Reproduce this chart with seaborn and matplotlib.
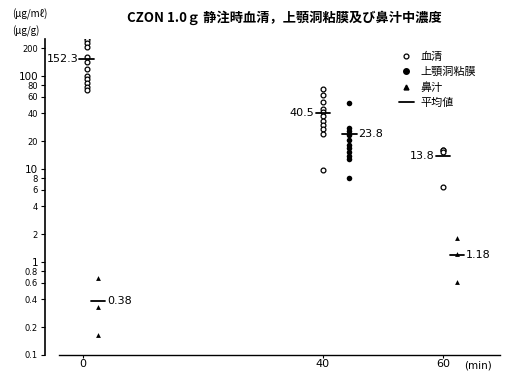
import numpy as np
import pandas as pd
import matplotlib
matplotlib.use("Agg")
import matplotlib.pyplot as plt
import seaborn as sns

# ---- data ----
serum_0 = [255, 245, 228, 205, 162, 143, 118, 100, 92, 84, 76, 70]
serum_40 = [72, 62, 52, 44, 41, 37, 33, 30, 27, 24, 9.8]
serum_60 = [16, 16, 15.3, 6.4]
mucosa_40 = [51, 27.6, 25.6, 23.2, 20.5, 18.1, 16.8, 15.2, 13.8, 12.8, 8.0]
nasal_0 = [0.67, 0.33, 0.164]
nasal_60 = [1.81, 1.22, 0.61]

mean_serum = {0: 152.3, 40: 40.5, 60: 13.8}
mean_mucosa = {40: 23.8}
mean_nasal = {0: 0.38, 60: 1.18}

x_ticks = [0, 40, 60]
y_ticks = [0.1, 0.2, 0.4, 0.6, 0.8, 1, 2, 4, 6, 8, 10, 20, 40, 60, 80, 100, 200]
y_labels = ["0.1", "0.2", "0.4", "0.6", "0.8", "1", "2", "4", "6", "8", "10",
            "20", "40", "60", "80", "100", "200"]

title = "CZON 1.0ｇ 静注時血清，上顎洞粘膜及び鼻汁中濃度"
legend_labels = ["血清", "上顎洞粘膜", "鼻汁", "平均値"]

# ---- layout (offsets of each series from its sampling time, in minutes) ----
off_serum = {0: 0.6, 40: 0.0, 60: 0.0}
off_mucosa = 4.4
off_nasal = {0: 2.5, 60: 2.3}

sns.set_style("white")
plt.rcParams["font.family"] = ["Noto Sans CJK JP", "DejaVu Sans"]
for k in ["text.color", "axes.labelcolor", "xtick.color", "ytick.color", "axes.edgecolor"]:
    plt.rcParams[k] = "black"

rows = []
for t, vals in [(0, serum_0), (40, serum_40), (60, serum_60)]:
    rows += [dict(x=t + off_serum[t], v=v, kind="serum") for v in vals]
for v in mucosa_40:
    rows.append(dict(x=40 + off_mucosa, v=v, kind="mucosa"))
for t, vals in [(0, nasal_0), (60, nasal_60)]:
    rows += [dict(x=t + off_nasal[t], v=v, kind="nasal") for v in vals]
df = pd.DataFrame(rows)

fig = plt.figure(figsize=(5.07, 3.71), dpi=100)
ax = fig.add_axes([45 / 507, 1 - 355 / 371, (500 - 45) / 507, (355 - 39) / 371])

sns.scatterplot(data=df[df.kind == "serum"], x="x", y="v", ax=ax, marker="o",
                s=12, facecolor="white", edgecolor="black", linewidth=0.9)
sns.scatterplot(data=df[df.kind == "mucosa"], x="x", y="v", ax=ax, marker="o",
                s=16, color="black", edgecolor="black", linewidth=0)
sns.scatterplot(data=df[df.kind == "nasal"], x="x", y="v", ax=ax, marker="^",
                s=12, color="black", edgecolor="black", linewidth=0)

ax.set_yscale("log")
ax.set_ylim(0.1, 250)
ax.set_xlim(-6.33, 69.5)

hw = 1.2
lab_kw = dict(va="center", fontsize=8, family="DejaVu Sans", color="black")
for t, m in mean_serum.items():
    cx = t + off_serum[t]
    ax.plot([cx - hw, cx + hw], [m, m], color="black", lw=1.3)
    ax.text(cx - hw - 0.2, m, f"{m}", ha="right", **lab_kw)
for t, m in mean_mucosa.items():
    cx = t + off_mucosa
    ax.plot([cx - hw, cx + hw], [m, m], color="black", lw=1.3)
    ax.text(cx + hw + 0.3, m, f"{m}", ha="left", **lab_kw)
for t, m in mean_nasal.items():
    cx = t + off_nasal[t]
    ax.plot([cx - hw, cx + hw], [m, m], color="black", lw=1.3)
    ax.text(cx + hw + 0.3, m, f"{m}", ha="left", **lab_kw)

# axes styling
for s in ["top", "right"]:
    ax.spines[s].set_visible(False)
ax.spines["left"].set_linewidth(1.2)
ax.spines["bottom"].set_linewidth(1.0)
ax.spines["bottom"].set_bounds(-4, 69.5)
ax.yaxis.set_major_locator(matplotlib.ticker.FixedLocator(y_ticks))
ax.yaxis.set_minor_locator(matplotlib.ticker.NullLocator())
ax.set_yticklabels(y_labels)
for lbl, val in zip(ax.get_yticklabels(), y_ticks):
    lbl.set_fontsize(7.5 if val in (1, 10, 100) else 6)
    lbl.set_family("DejaVu Sans")
ax.set_xticks(x_ticks)
ax.set_xticklabels([str(t) for t in x_ticks], fontsize=8, family="DejaVu Sans")
ax.tick_params(axis="y", direction="out", length=3, width=0.8, pad=2, left=True)
ax.tick_params(axis="x", direction="out", length=2, width=0.8, pad=1, bottom=True)
ax.set_xlabel("")
ax.set_ylabel("")

fig.text(478 / 507, 1 - 365 / 371, "(min)", fontsize=7.5, ha="center", va="center",
         family="DejaVu Sans")
fig.text(12 / 507, 1 - 14 / 371, "(μg/mℓ)", fontsize=7, ha="left", va="center")
fig.text(12 / 507, 1 - 31 / 371, "(μg/g)", fontsize=7, ha="left", va="center")
fig.text(284 / 507, 1 - 18 / 371, title, fontsize=9.5, fontweight="bold",
         ha="center", va="center")

# legend
from matplotlib.lines import Line2D
handles = [
    Line2D([], [], marker="o", ls="", mfc="white", mec="black", ms=3.5, mew=0.9),
    Line2D([], [], marker="o", ls="", mfc="black", mec="black", ms=4),
    Line2D([], [], marker="^", ls="", mfc="black", mec="black", ms=3.5),
    Line2D([], [], color="black", lw=1.3),
]
ax.legend(handles, legend_labels, loc="upper left",
          bbox_to_anchor=((393 - 45) / (500 - 45), 1 - (46 - 39) / 316),
          frameon=False, fontsize=8, handlelength=1.4, handletextpad=0.6,
          labelspacing=0.45, borderpad=0)

fig.savefig("out.png", dpi=100)
